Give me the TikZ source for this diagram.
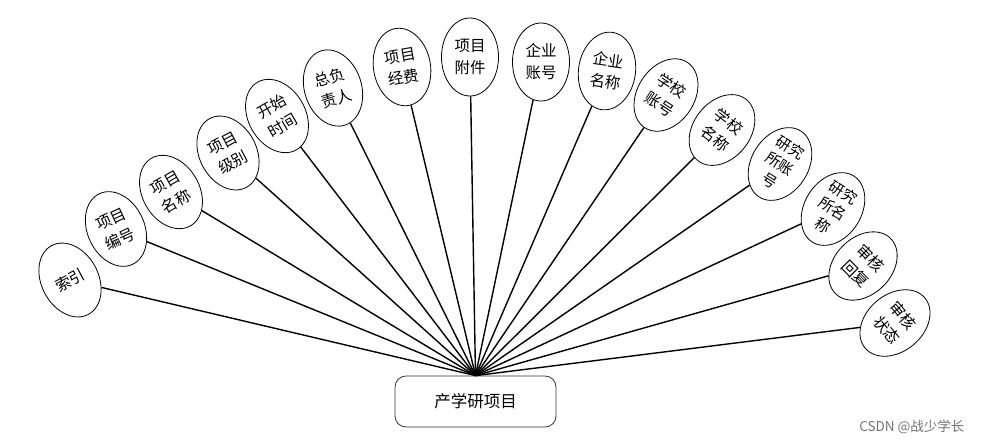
\documentclass[tikz,border=0pt]{standalone}
\usepackage{fontspec}
\newfontfamily\cjk{Noto Sans CJK SC}
\usetikzlibrary{shapes.geometric}
\begin{document}
\begin{tikzpicture}[x=1pt,y=-1pt,
  attr/.style={ellipse,draw=black,line width=0.8pt,fill=white,minimum width=57pt,minimum height=78pt,inner sep=0pt,align=center,font=\cjk\fontsize{15.5}{22}\selectfont},
  attrthree/.style={attr,font=\cjk\fontsize{15}{19.5}\selectfont},
  entity/.style={rectangle,rounded corners=11pt,draw=black!80,line width=0.8pt,fill=white,minimum width=161pt,minimum height=51pt,font=\cjk\fontsize{16.5}{20}\selectfont},
  link/.style={line width=1.4pt,black}]
\useasboundingbox (0,0) rectangle (982,445);
\node[entity] (c) at (475.5,401.5) {产学研项目};
\node[attr,rotate=28] (a1) at (70,280) {索引};
\node[attr,rotate=25] (a2) at (116,229) {项目\\编号};
\node[attr,rotate=30] (a3) at (171,192) {项目\\名称};
\node[attr,rotate=28] (a4) at (228,153) {项目\\级别};
\node[attr,rotate=30] (a5) at (277,116) {开始\\时间};
\node[attr,rotate=18] (a6) at (333,88) {总负\\责人};
\node[attr,rotate=10] (a7) at (402,67) {项目\\经费};
\node[attr] (a8) at (470,57) {项目\\附件};
\node[attr] (a9) at (541,62) {企业\\账号};
\node[attr,rotate=-8] (a10) at (607,71) {企业\\名称};
\node[attr,rotate=-33] (a11) at (666,95) {学校\\账号};
\node[attr,rotate=-38] (a12) at (722,130) {学校\\名称};
\node[attrthree,rotate=-32] (a13) at (780,164) {研究\\所账\\号};
\node[attrthree,rotate=-32] (a14) at (833,209) {研究\\所名\\称};
\node[attr,rotate=-45] (a15) at (863,266) {审核\\回复};
\node[attr,rotate=-50] (a16) at (895,323) {审核\\状态};
\foreach \i in {1,...,16} {\draw[link] (a\i) -- (c.north);}
\node[text=black!55,font=\cjk\fontsize{13.5}{15}\selectfont,anchor=east] (wm) at (968,427) {CSDN @战少学长};
\end{tikzpicture}
\end{document}
